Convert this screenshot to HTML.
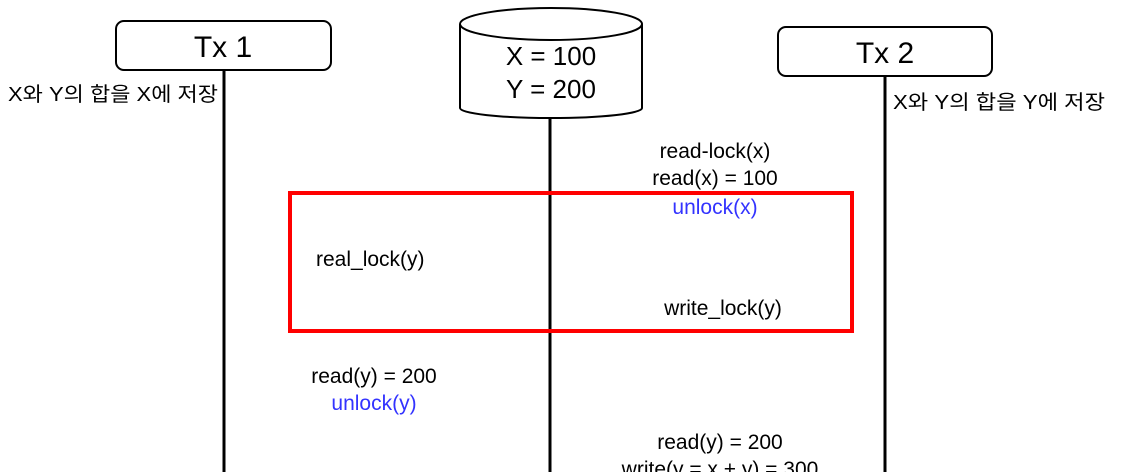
<!DOCTYPE html>
<html><head><meta charset="utf-8"><style>
html,body{margin:0;padding:0;background:#fff;width:1148px;height:472px;overflow:hidden}
text{font-family:"Liberation Sans","Noto Sans CJK KR",sans-serif}
</style></head><body>
<svg width="1148" height="472" viewBox="0 0 1148 472" xmlns="http://www.w3.org/2000/svg">
<g stroke="#000" stroke-width="2" fill="#fff">
<line x1="224" y1="70" x2="224" y2="472" stroke-width="3"/>
<line x1="550" y1="110" x2="550" y2="472" stroke-width="3"/>
<line x1="885" y1="76" x2="885" y2="472" stroke-width="3"/>
<rect x="116" y="21" width="215" height="49" rx="8"/>
<rect x="778" y="27" width="214" height="49" rx="8"/>
<path d="M460 24 L460 108 A91 10 0 0 0 642 108 L642 24"/>
<ellipse cx="551" cy="24" rx="91" ry="16"/>
</g>
<rect x="290" y="193" width="562" height="138" fill="none" stroke="#f00" stroke-width="4"/>
<g font-size="30" text-anchor="middle" fill="#000">
<text x="223" y="57">Tx 1</text>
<text x="885" y="63">Tx 2</text>
</g>
<g font-size="26" text-anchor="middle">
<text x="551" y="65">X = 100</text>
<text x="551" y="98">Y = 200</text>
</g>
<g font-size="20" fill="#000">
<text x="8" y="101" textLength="210" lengthAdjust="spacingAndGlyphs">X와 Y의 합을 X에 저장</text>
<text x="893" y="109" textLength="212" lengthAdjust="spacingAndGlyphs">X와 Y의 합을 Y에 저장</text>
<text x="316" y="266" font-size="21">real_lock(y)</text>
</g>
<g font-size="21" text-anchor="middle">
<text x="715" y="158">read-lock(x)</text>
<text x="715" y="185">read(x) = 100</text>
<text x="715" y="214" fill="#3333ff">unlock(x)</text>
<text x="723" y="315">write_lock(y)</text>
<text x="374" y="383">read(y) = 200</text>
<text x="374" y="410" fill="#3333ff">unlock(y)</text>
<text x="720" y="449">read(y) = 200</text>
<text x="720" y="476">write(y = x + y) = 300</text>
</g>
</svg>
</body></html>
